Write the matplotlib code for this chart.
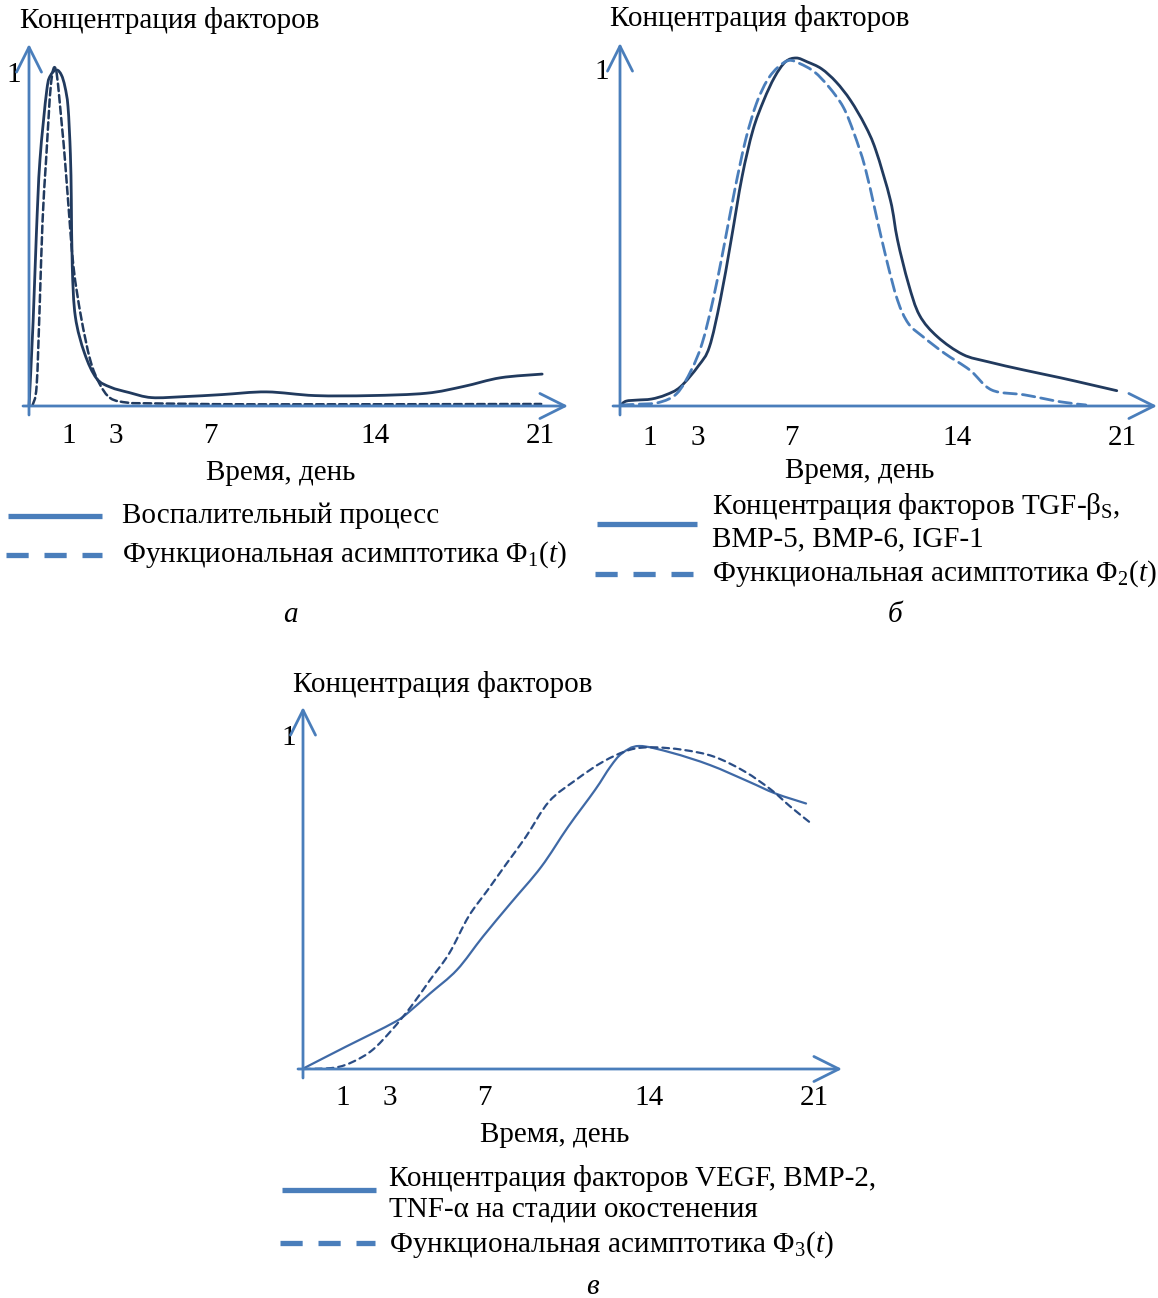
import matplotlib
matplotlib.use("Agg")
import matplotlib.pyplot as plt
from matplotlib.path import Path
from matplotlib.patches import PathPatch
import numpy as np

plt.rcParams['font.family'] = ['Liberation Serif', 'DejaVu Serif']
plt.rcParams['mathtext.fontset'] = 'custom'
plt.rcParams['mathtext.rm'] = 'Liberation Serif'
plt.rcParams['mathtext.it'] = 'Liberation Serif:italic'

W, H = 1158, 1298
DPI = 100

# ---------------- data (days, relative concentration) ----------------
tick_days = [1, 3, 7, 14, 21]
tick_labels = ["1", "3", "7", "14", "21"]

a_solid_t = [-0.67, -0.50, -0.36, -0.21, 0.08, 0.25, 0.50, 0.70, 0.85, 0.98, 1.08, 1.12,
             1.16, 1.29, 1.68, 2.19, 2.78, 3.57, 4.52, 5.93, 7.51, 9.39, 11.44, 13.80,
             16.16, 17.73, 19.30, 21.07]
a_solid_y = [0.003, 0.25, 0.514, 0.732, 0.94, 0.985, 1.0, 0.985, 0.95, 0.89, 0.75, 0.613,
             0.415, 0.266, 0.157, 0.082, 0.056, 0.040, 0.025, 0.028, 0.034, 0.042, 0.031,
             0.031, 0.038, 0.058, 0.084, 0.095]
a_dash_t = [-0.52, -0.35, -0.22, -0.10, 0.05, 0.26, 0.47, 0.71, 0.85, 0.98, 1.21, 1.53,
            1.92, 2.31, 2.78, 3.50, 4.36, 9.08, 21.03]
a_dash_y = [0.003, 0.06, 0.30, 0.55, 0.732, 0.96, 1.0, 0.842, 0.732, 0.613, 0.415, 0.266,
            0.137, 0.067, 0.023, 0.010, 0.008, 0.005, 0.006]

b_solid_t = [-0.25, -0.02, 0.44, 1.05, 1.66, 2.28, 3.05, 3.51, 3.97, 4.43, 4.89, 5.35, 5.81,
             6.27, 6.73, 7.19, 7.65, 8.26, 8.88, 9.49, 10.10, 10.56, 11.18, 11.48, 11.94,
             12.41, 13.17, 14.25, 15.32, 16.86, 18.39, 19.62, 20.77]
b_solid_y = [0.003, 0.014, 0.017, 0.020, 0.032, 0.055, 0.116, 0.170, 0.304, 0.477, 0.658,
             0.792, 0.878, 0.945, 0.989, 1.0, 0.989, 0.969, 0.931, 0.878, 0.807, 0.735, 0.591,
             0.477, 0.352, 0.261, 0.199, 0.148, 0.127, 0.103, 0.081, 0.062, 0.044]
b_dash_t = [-0.25, 0.44, 1.36, 2.13, 2.74, 3.20, 3.66, 4.12, 4.58, 5.04, 5.50, 5.96, 6.42,
            6.88, 7.34, 7.96, 8.57, 9.18, 9.64, 10.10, 10.56, 11.02, 11.48, 11.94, 12.56,
            13.48, 14.55, 15.47, 16.86, 18.39, 19.46]
b_dash_y = [0.003, 0.005, 0.010, 0.036, 0.103, 0.180, 0.304, 0.457, 0.620, 0.764, 0.869,
            0.936, 0.974, 0.993, 0.984, 0.960, 0.917, 0.859, 0.783, 0.687, 0.553, 0.419,
            0.304, 0.237, 0.199, 0.151, 0.103, 0.046, 0.032, 0.012, 0.003]

c_solid_t = [-0.64, 1.15, 2.28, 3.26, 3.75, 4.72, 5.86, 6.96, 8.13, 9.43, 10.57, 11.71,
             12.36, 12.85, 13.58, 14.96, 16.58, 18.21, 19.35, 20.65]
c_solid_y = [0.002, 0.069, 0.110, 0.147, 0.172, 0.234, 0.307, 0.410, 0.513, 0.626, 0.750,
             0.864, 0.936, 0.977, 1.0, 0.979, 0.941, 0.890, 0.853, 0.822]
c_dash_t = [-0.64, 0.66, 1.47, 2.28, 3.10, 3.91, 4.72, 5.53, 6.35, 7.16, 7.97, 8.78, 9.76,
            10.90, 12.04, 13.17, 14.15, 15.45, 16.75, 18.05, 19.18, 19.99, 20.89]
c_dash_y = [0.0, 0.004, 0.023, 0.059, 0.121, 0.193, 0.276, 0.358, 0.472, 0.554, 0.637,
            0.719, 0.828, 0.895, 0.951, 0.988, 0.996, 0.988, 0.967, 0.921, 0.864, 0.812, 0.759]

y_title = "Концентрация факторов"
x_title = "Время, день"
leg_a = ["Воспалительный процесс", r"Функциональная асимптотика Φ$_1$($\mathit{t}$)"]
leg_b = ["Концентрация факторов TGF-β$_\\mathrm{S}$,\nBMP-5, BMP-6, IGF-1",
         r"Функциональная асимптотика Φ$_2$($\mathit{t}$)"]
leg_c = ["Концентрация факторов VEGF, BMP-2,\nTNF-α на стадии окостенения",
         r"Функциональная асимптотика Φ$_3$($\mathit{t}$)"]

# ---------------- styling ----------------
AXC = '#4A7EBB'
NAVY = '#213A5E'
MID = '#4A7EBB'
FS = 21

fig = plt.figure(figsize=(W / DPI, H / DPI), dpi=DPI)

ov = fig.add_axes([0, 0, 1, 1])
ov.set_xlim(0, W)
ov.set_ylim(H, 0)
ov.axis('off')

SCALE = 23.6  # px per day


def panel(left, right, top, bottom, day0_px, y0_px, y1_px):
    h = y0_px - y1_px
    ax = fig.add_axes([left / W, 1 - bottom / H, (right - left) / W, (bottom - top) / H])
    ax.set_xlim((left - day0_px) / SCALE, (right - day0_px) / SCALE)
    ax.set_ylim((y0_px - bottom) / h, (y0_px - top) / h)
    ax.axis('off')
    ax.patch.set_alpha(0)
    return ax


def px2d(p, px, py):
    d0, y0, y1 = p
    return (px - d0) / SCALE, (y0 - py) / (y0 - y1)


def smooth_line(ax, xs, ys, **kw):
    """Smoothed (Catmull-Rom as cubic Bezier) line through the data points."""
    P = np.column_stack([xs, ys]).astype(float)
    n = len(P)
    verts = [P[0]]
    codes = [Path.MOVETO]
    for i in range(n - 1):
        p0 = P[i - 1] if i > 0 else P[i]
        p1, p2 = P[i], P[i + 1]
        p3 = P[i + 2] if i + 2 < n else P[i + 1]
        c1 = p1 + (p2 - p0) / 6.0
        c2 = p2 - (p3 - p1) / 6.0
        verts += [c1, c2, p2]
        codes += [Path.CURVE4] * 3
    patch = PathPatch(Path(verts, codes), fill=False, transform=ax.transData,
                      capstyle='round', joinstyle='round', **kw)
    ax.add_patch(patch)


def draw_axes(ax, p, yx, ytop, ybot, xl, xr, xy):
    ast = '->,head_length=1.8,head_width=0.9'
    x_, yt = px2d(p, yx, ytop)
    _, yb = px2d(p, yx, ybot)
    ax.annotate('', xy=(x_, yt), xytext=(x_, yb),
                arrowprops=dict(arrowstyle=ast, color=AXC, lw=2.0, shrinkA=0, shrinkB=0,
                                mutation_scale=10), annotation_clip=False)
    xa, y_ = px2d(p, xl, xy)
    xb, _ = px2d(p, xr, xy)
    ax.annotate('', xy=(xb, y_), xytext=(xa, y_),
                arrowprops=dict(arrowstyle=ast, color=AXC, lw=2.0, shrinkA=0, shrinkB=0,
                                mutation_scale=10), annotation_clip=False)


def ticks(ax, p, ty):
    _, yv = px2d(p, 0, ty)
    for d, lab in zip(tick_days, tick_labels):
        ax.text(d, yv, lab, ha='center', va='center', fontsize=FS, clip_on=False)


# ---- panel a ----
pa = (44.9, 406, 70)
axa = panel(0, 580, 0, 490, *pa)
smooth_line(axa, a_solid_t, a_solid_y, edgecolor=NAVY, lw=2.0)
smooth_line(axa, a_dash_t, a_dash_y, edgecolor=NAVY, lw=1.8, linestyle=(0, (3.0, 1.6)))
draw_axes(axa, pa, 29, 44, 415, 23, 568, 406)
ticks(axa, pa, 436)
ov.text(20, 21, y_title, fontsize=FS, ha='left', va='center')
ov.text(14, 75, "1", fontsize=FS, ha='center', va='center')
ov.text(281, 473, x_title, fontsize=FS, ha='center', va='center')

# ---- panel b ----
pb = (626.6, 406, 58)
axb = panel(590, 1158, 0, 490, *pb)
smooth_line(axb, b_solid_t, b_solid_y, edgecolor=NAVY, lw=2.0)
smooth_line(axb, b_dash_t, b_dash_y, edgecolor=MID, lw=2.0, linestyle=(0, (4.5, 2.2)))
draw_axes(axb, pb, 620, 43, 415, 613, 1157, 406)
ticks(axb, pb, 438)
ov.text(610, 19, y_title, fontsize=FS, ha='left', va='center')
ov.text(602, 72, "1", fontsize=FS, ha='center', va='center')
ov.text(860, 471, x_title, fontsize=FS, ha='center', va='center')

# ---- panel c ----
pc = (318.7, 1069, 746)
axc = panel(280, 860, 680, 1150, *pc)
smooth_line(axc, c_solid_t, c_solid_y, edgecolor='#3F69A6', lw=1.6)
smooth_line(axc, c_dash_t, c_dash_y, edgecolor='#2A4D86', lw=1.6, linestyle=(0, (3.0, 2.2)))
draw_axes(axc, pc, 303, 707, 1078, 298, 842, 1069)
ticks(axc, pc, 1098)
ov.text(293, 685, y_title, fontsize=FS, ha='left', va='center')
ov.text(289, 738, "1", fontsize=FS, ha='center', va='center')
ov.text(555, 1135, x_title, fontsize=FS, ha='center', va='center')

# ---- legends ----
LLW = 3.8
DASH = (4.2, 3.0)


def leg_line(x0, x1, y, dashed):
    if dashed:
        ov.plot([x0, x1], [y, y], color=AXC, lw=LLW, dashes=DASH, solid_capstyle='butt',
                dash_capstyle='butt')
    else:
        ov.plot([x0, x1], [y, y], color=AXC, lw=LLW, solid_capstyle='butt')


leg_line(8, 102, 516, False)
ov.text(122, 516, leg_a[0], fontsize=FS, ha='left', va='center')
leg_line(6, 102, 555, True)
ov.text(122, 555, leg_a[1], fontsize=FS, ha='left', va='center')
ov.text(290, 615, "а", fontsize=FS, ha='center', va='center', style='italic')

leg_line(597, 697, 524, False)
ov.text(712, 522, leg_b[0], fontsize=FS, ha='left', va='center', linespacing=1.22)
leg_line(595, 693, 574, True)
ov.text(712, 574, leg_b[1], fontsize=FS, ha='left', va='center')
ov.text(895, 615, "б", fontsize=FS, ha='center', va='center', style='italic')

leg_line(282, 376, 1190, False)
ov.text(389, 1194, leg_c[0], fontsize=FS, ha='left', va='center', linespacing=1.22)
leg_line(280, 375, 1243, True)
ov.text(389, 1245, leg_c[1], fontsize=FS, ha='left', va='center')
ov.text(592, 1287, "в", fontsize=FS, ha='center', va='center', style='italic')

fig.savefig("out.png", dpi=DPI)
